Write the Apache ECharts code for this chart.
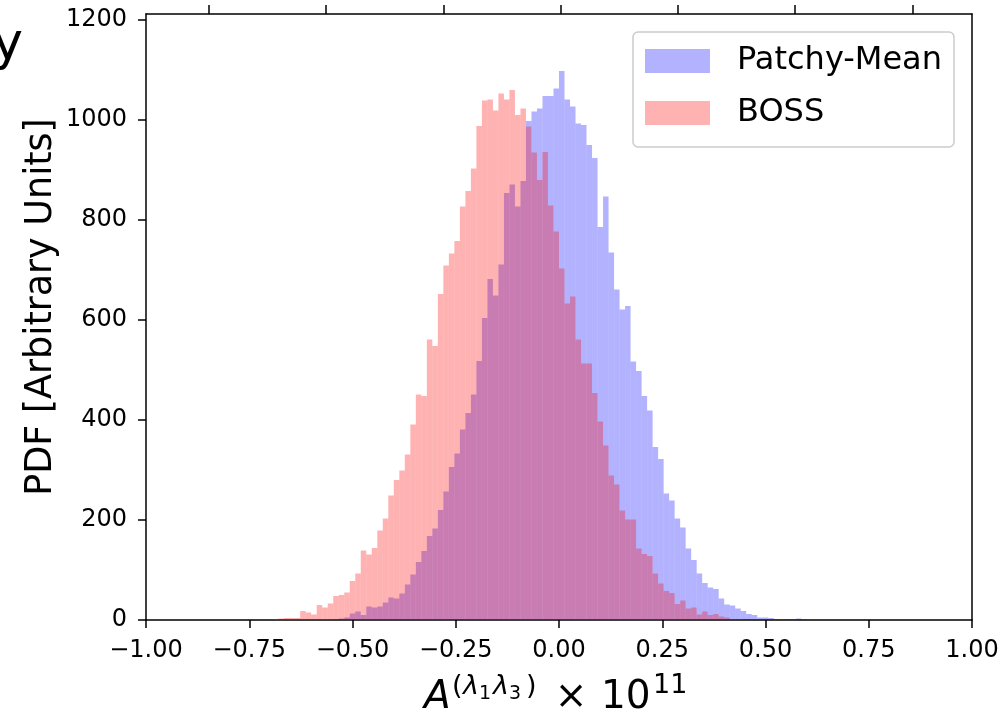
<!DOCTYPE html>
<html>
<head>
<meta charset="utf-8">
<script src="https://cdn.jsdelivr.net/npm/echarts@6/dist/echarts.min.js"></script>
<style>
html,body{margin:0;padding:0;background:#fff;}
#chart{width:1004px;height:714px;}
</style>
</head>
<body>
<div id="chart"></div>
<script>
// ---- data ----
const BIN_ORIGIN = -1;          // histogram bins: 150 equal bins over [-1, 1]
const BIN_WIDTH = 2 / 150;
const seriesNames = ['Patchy-Mean', 'BOSS'];
const patchyFirstBin = 33;
const patchyCounts = [
  1,2,3,5,13,
  17,10,27,25,27,35,45,43,53,71,
  91,116,138,168,183,220,257,306,333,381,
  414,451,518,604,682,649,711,854,871,827,
  878,998,1017,1023,1048,1048,1063,1098,1041,1027,
  993,990,950,924,786,847,735,661,621,628,
  517,498,448,419,346,322,253,239,203,185,
  143,120,93,74,65,62,43,31,29,23,
  18,12,10,5,5,4,2,1,2,1,3,1
];
const bossFirstBin = 22;
const bossCounts = [
  1,2,3,4,4,4,
  18,15,11,30,25,33,48,50,55,78,
  93,139,131,144,179,203,249,280,299,331,
  391,451,448,561,548,652,709,733,758,827,
  858,903,988,1039,1041,1019,1053,1041,1060,1010,
  1023,987,935,880,936,829,777,703,633,647,
  561,513,513,454,397,349,289,271,219,201,
  201,143,132,128,93,73,58,54,32,39,
  23,25,11,17,10,12,7,5,2,2,1
];
const xTicks = [-1, -0.75, -0.5, -0.25, 0, 0.25, 0.5, 0.75, 1];
const yTicks = [0, 200, 400, 600, 800, 1000, 1200];
const topTicks = [-0.847, -0.564, -0.28, 0.004, 0.287, 0.571, 0.857];

// ---- build histogram rows [left edge, right edge, count] ----
function toBins(first, counts) {
  return counts.map((c, i) => [
    BIN_ORIGIN + (first + i) * BIN_WIDTH,
    BIN_ORIGIN + (first + i + 1) * BIN_WIDTH,
    c
  ]);
}
const patchyData = toBins(patchyFirstBin, patchyCounts);
const bossData = toBins(bossFirstBin, bossCounts);

function renderBar(params, api) {
  const p0 = api.coord([api.value(0), 0]);
  const p1 = api.coord([api.value(1), api.value(2)]);
  return {
    type: 'rect',
    shape: { x: p0[0], y: p1[1], width: p1[0] - p0[0], height: p0[1] - p1[1] },
    style: { fill: api.visual('color') }
  };
}

const FONT = 'DejaVu Sans';
const fmtX = v => (v < 0 ? '\u2212' : '') + Math.abs(v).toFixed(2);
const fmtY = v => String(v);
const axisLineStyle = { color: '#000', width: 1.5 };

const chart = echarts.init(document.getElementById('chart'), null, { renderer: 'canvas' });
chart.setOption({
  animation: false,
  backgroundColor: '#fff',
  textStyle: { fontFamily: FONT, color: '#000' },
  grid: { left: 146, right: 32, top: 14, bottom: 94, containLabel: false },
  xAxis: [
    {
      type: 'value', position: 'bottom', min: -1, max: 1,
      axisLine: { show: true, onZero: false, lineStyle: axisLineStyle },
      axisTick: { show: true, inside: false, length: 8, lineStyle: axisLineStyle, customValues: xTicks },
      axisLabel: { show: true, fontSize: 24, color: '#000', fontFamily: FONT, margin: 19,
                   customValues: xTicks, formatter: fmtX },
      splitLine: { show: false }
    },
    {
      type: 'value', position: 'top', min: -1, max: 1,
      axisLine: { show: true, onZero: false, lineStyle: axisLineStyle },
      axisTick: { show: true, inside: false, length: 9, lineStyle: axisLineStyle, customValues: topTicks },
      axisLabel: { show: false },
      splitLine: { show: false }
    }
  ],
  yAxis: [
    {
      type: 'value', position: 'left', min: 0, max: 1212,
      axisLine: { show: true, onZero: false, lineStyle: axisLineStyle },
      axisTick: { show: true, inside: false, length: 8, lineStyle: axisLineStyle, customValues: yTicks },
      axisLabel: { show: true, fontSize: 24, color: '#000', fontFamily: FONT, margin: 19,
                   customValues: yTicks, formatter: fmtY },
      splitLine: { show: false }
    },
    {
      type: 'value', position: 'right', min: 0, max: 1212,
      axisLine: { show: true, onZero: false, lineStyle: axisLineStyle },
      axisTick: { show: false },
      axisLabel: { show: false },
      splitLine: { show: false }
    }
  ],
  legend: {
    data: seriesNames,
    orient: 'vertical',
    left: 633, top: 32,
    icon: 'rect',
    itemWidth: 65, itemHeight: 24,
    itemGap: 20,
    padding: [13, 12, 18, 12],
    borderColor: '#cccccc', borderWidth: 1.5, borderRadius: 5,
    backgroundColor: 'rgba(255,255,255,0.8)',
    textStyle: { fontSize: 32, color: '#000', fontFamily: FONT, padding: [0, 0, 0, 22] }
  },
  series: [
    {
      name: seriesNames[0], type: 'custom', renderItem: renderBar,
      xAxisIndex: 0, yAxisIndex: 0,
      itemStyle: { color: 'rgba(0,0,255,0.3)' },
      encode: { x: [0, 1], y: 2 },
      data: patchyData, clip: true
    },
    {
      name: seriesNames[1], type: 'custom', renderItem: renderBar,
      xAxisIndex: 0, yAxisIndex: 0,
      itemStyle: { color: 'rgba(255,0,0,0.3)' },
      encode: { x: [0, 1], y: 2 },
      data: bossData, clip: true
    }
  ],
  graphic: [
    // cropped letter at top-left
    { type: 'text', x: 23, y: 45, style: { text: 'y', font: '52px "DejaVu Sans"', fill: '#000', textAlign: 'right', textVerticalAlign: 'middle' } },
    // y axis title
    { type: 'text', x: 42, y: 307, rotation: Math.PI / 2,
      style: { text: 'PDF [Arbitrary Units]', font: '36.5px "DejaVu Sans"', fill: '#000', textAlign: 'center', textVerticalAlign: 'middle' } },
    // x axis title: A^(λ1λ3) × 10^11
    { type: 'text', x: 424, y: 698, style: { text: 'A', font: 'italic 39px "DejaVu Sans"', fill: '#000', textAlign: 'left', textVerticalAlign: 'middle' } },
    { type: 'text', x: 452, y: 687, style: { text: '(', font: '27px "DejaVu Sans"', fill: '#000', textAlign: 'left', textVerticalAlign: 'middle' } },
    { type: 'text', x: 463, y: 687, style: { text: 'λ', font: 'italic 27px "DejaVu Sans"', fill: '#000', textAlign: 'left', textVerticalAlign: 'middle' } },
    { type: 'text', x: 479, y: 694, style: { text: '1', font: '19px "DejaVu Sans"', fill: '#000', textAlign: 'left', textVerticalAlign: 'middle' } },
    { type: 'text', x: 493, y: 687, style: { text: 'λ', font: 'italic 27px "DejaVu Sans"', fill: '#000', textAlign: 'left', textVerticalAlign: 'middle' } },
    { type: 'text', x: 509, y: 694, style: { text: '3', font: '19px "DejaVu Sans"', fill: '#000', textAlign: 'left', textVerticalAlign: 'middle' } },
    { type: 'text', x: 526, y: 687, style: { text: ')', font: '27px "DejaVu Sans"', fill: '#000', textAlign: 'left', textVerticalAlign: 'middle' } },
    { type: 'text', x: 571, y: 698, style: { text: '×', font: '39px "DejaVu Sans"', fill: '#000', textAlign: 'center', textVerticalAlign: 'middle' } },
    { type: 'text', x: 601, y: 698, style: { text: '10', font: '39px "DejaVu Sans"', fill: '#000', textAlign: 'left', textVerticalAlign: 'middle' } },
    { type: 'text', x: 653, y: 686, style: { text: '11', font: '27px "DejaVu Sans"', fill: '#000', textAlign: 'left', textVerticalAlign: 'middle' } }
  ]
});
</script>
</body>
</html>
